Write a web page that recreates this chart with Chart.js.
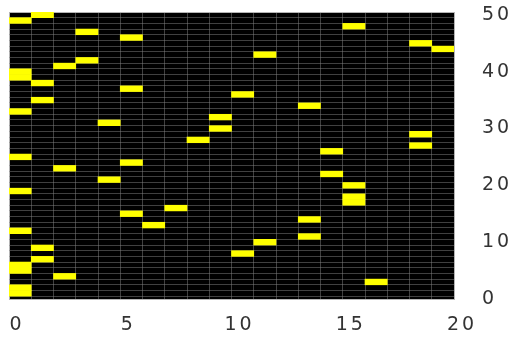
<!DOCTYPE html>
<html>
<head>
<meta charset="utf-8">
<script src="https://cdn.jsdelivr.net/npm/chart.js@4.4.1/dist/chart.umd.min.js"></script>
<style>
  html, body { margin: 0; padding: 0; background: #fff; }
</style>
</head>
<body>
<canvas id="c" width="511" height="338"></canvas>
<script>
// one lit cell per row: the row number and the column it sits in
const rows = [1, 2, 3, 4, 5, 6, 7, 8, 9, 10,
  11, 12, 13, 14, 15, 16, 17, 18, 19, 20,
  21, 22, 23, 24, 25, 26, 27, 28, 29, 30,
  31, 32, 33, 34, 35, 36, 37, 38, 39, 40,
  41, 42, 43, 44, 45, 46, 47, 48, 49, 50];
const cols = [0, 0, 16, 2, 0, 0, 1, 10, 1, 11,
  13, 0, 6, 13, 5, 7, 15, 15, 0, 15,
  4, 14, 2, 5, 0, 14, 18, 8, 18, 9,
  4, 9, 0, 13, 1, 10, 5, 1, 0, 0,
  2, 3, 11, 19, 18, 5, 3, 15, 0, 1];
const xTicks = [0, 5, 10, 15, 20];
const yTicks = [0, 10, 20, 30, 40, 50];
const nCols = 20;
const nRows = 50;

const GRID = "rgba(128,128,128,0.5)";
const FRAME = "#b4b4b4";

Chart.defaults.font.family = "'DejaVu Sans', sans-serif";
Chart.defaults.font.size = 19;
Chart.defaults.color = "#333";

const blackArea = {
  id: "blackArea",
  beforeDraw(chart) {
    const { ctx, chartArea: a } = chart;
    ctx.save();
    ctx.fillStyle = "#000";
    ctx.fillRect(a.left, a.top, a.right - a.left, a.bottom - a.top);
    ctx.restore();
    ctx.letterSpacing = "3px";
  },
};

// keep label overhang from pushing the plot area around
function noPad(s) {
  s.paddingLeft = 0;
  s.paddingRight = 0;
  s.paddingTop = 0;
  s.paddingBottom = 0;
}

new Chart(document.getElementById("c"), {
  type: "bar",
  data: {
    datasets: [
      {
        data: cols.map((c, i) => ({ x: c + 0.5, y: [rows[i] - 0.5, rows[i] + 0.5] })),
        backgroundColor: "#ffff00",
        borderWidth: 0,
        barPercentage: 1,
        categoryPercentage: 1,
      },
    ],
  },
  options: {
    responsive: false,
    animation: false,
    events: [],
    layout: { padding: { left: 9, top: 12, right: 0, bottom: 0 } },
    plugins: { legend: { display: false }, tooltip: { enabled: false } },
    scales: {
      x: {
        type: "linear",
        min: 0,
        max: nCols,
        offset: false,
        afterBuildTicks(s) {
          const t = [];
          for (let i = 0; i <= nCols; i++) t.push({ value: i });
          s.ticks = t;
        },
        afterFit(s) { s.height = 39; noPad(s); },
        ticks: {
          autoSkip: false,
          maxRotation: 0,
          padding: 15,
          labelOffset: 8,
          callback: (v) => (xTicks.includes(v) ? String(v) : ""),
        },
        grid: {
          offset: false,
          drawTicks: false,
          color: (ctx) => {
            const v = ctx.tick ? ctx.tick.value : 1;
            return v === 0 || v === nCols ? FRAME : GRID;
          },
        },
        border: { color: FRAME, width: 1 },
      },
      y: {
        type: "linear",
        position: "right",
        min: 0,
        max: nRows + 0.5,
        afterBuildTicks(s) {
          const vals = yTicks.slice();
          rows.forEach((r) => vals.push(r - 0.5));
          vals.push(nRows + 0.5);
          vals.sort((a, b) => a - b);
          s.ticks = vals.map((v) => ({ value: v }));
        },
        afterFit(s) { s.width = 57; noPad(s); },
        ticks: {
          autoSkip: false,
          padding: 28,
          callback: (v) => (yTicks.includes(v) ? String(v) : ""),
        },
        grid: {
          drawTicks: false,
          color: (ctx) => {
            const v = ctx.tick ? ctx.tick.value : 0.5;
            if (v === nRows + 0.5) return FRAME;
            return Number.isInteger(v) ? "transparent" : GRID;
          },
        },
        border: { color: FRAME, width: 1 },
      },
    },
  },
  plugins: [blackArea],
});
</script>
</body>
</html>
